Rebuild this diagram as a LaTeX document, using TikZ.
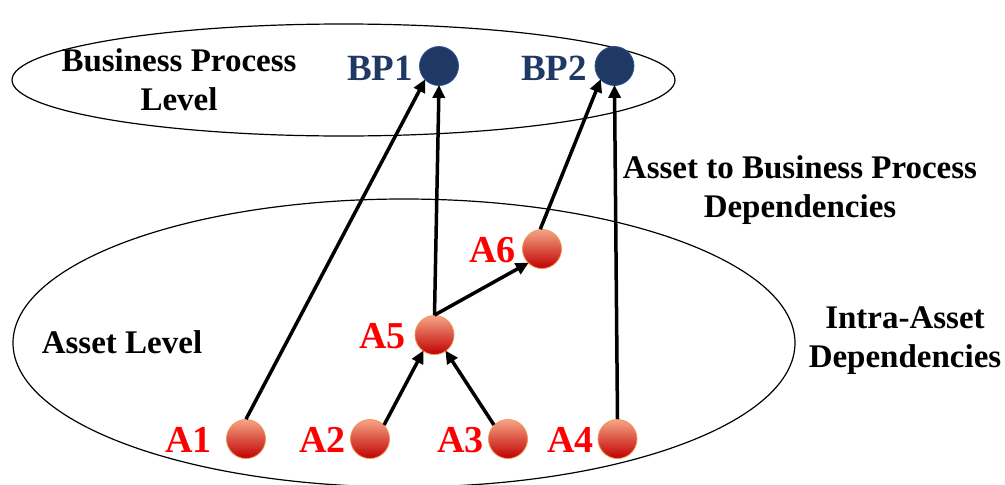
\documentclass[tikz,border=0pt]{standalone}
\usepackage{fontspec}
\setmainfont{Liberation Serif}
\usetikzlibrary{arrows.meta}
\definecolor{navy}{RGB}{32,56,100}
\definecolor{navyedge}{RGB}{47,85,151}
\definecolor{assettop}{RGB}{246,165,135}
\definecolor{assetbot}{RGB}{192,0,0}
\definecolor{assetedge}{RGB}{240,150,80}
\definecolor{labred}{RGB}{255,0,0}
\tikzset{
  bpnode/.style={circle, minimum size=39pt, inner sep=0pt, fill=navy, draw=navyedge, line width=0.8pt},
  anode/.style={circle, minimum size=39pt, inner sep=0pt, top color=assettop, bottom color=assetbot, draw=assetedge, line width=0.8pt},
  bplab/.style={anchor=east, text=navy, font=\fontsize{37}{40}\selectfont\bfseries, inner sep=0pt},
  alab/.style={anchor=east, text=labred, font=\fontsize{38}{40}\selectfont\bfseries, inner sep=0pt},
  txt/.style={align=center, font=\fontsize{33}{39}\selectfont\bfseries, inner sep=0pt},
  level/.style={line width=1.2pt, draw=black},
  dep/.style={line width=3.5pt, -{Triangle[length=13pt,width=12pt]}, shorten >=-1pt}
}
\begin{document}
\begin{tikzpicture}[x=1pt,y=-1pt]
\useasboundingbox (0,0) rectangle (1005,485);
% levels
\draw[level] (343.5,80) ellipse [x radius=331.5pt, y radius=56pt];
\draw[level] (404,343) ellipse [x radius=391pt, y radius=144pt];
% nodes
\node[bpnode] (BP1) at (439,66) {};
\node[bpnode] (BP2) at (614.5,66) {};
\node[anode] (A6) at (542,249) {};
\node[anode] (A5) at (434.5,335) {};
\node[anode] (A1) at (246,439) {};
\node[anode] (A2) at (370,439) {};
\node[anode] (A3) at (508,439) {};
\node[anode] (A4) at (617.5,439) {};
% labels
\node[bplab] (lBP1) at (413,68) {BP1};
\node[bplab] (lBP2) at (587,68) {BP2};
\node[alab] (lA6) at (516,250) {A6};
\node[alab] (lA5) at (406,336) {A5};
\node[alab] (lA1) at (212,440) {A1};
\node[alab] (lA2) at (346,440) {A2};
\node[alab] (lA3) at (484,440) {A3};
\node[alab] (lA4) at (594,440) {A4};
% texts
\node[txt] (tBPL) at (179,80) {Business Process\\Level};
\node[txt] (tAL) at (122,342) {Asset Level};
\node[txt] (tABP) at (800,190) {Asset to Business Process\\Dependencies};
\node[txt] (tIA) at (905,341) {Intra-Asset\\Dependencies};
% connectors
\draw[dep] (A1.north) -- (BP1.225);
\draw[dep] (A5.north) -- (BP1.south);
\draw[dep] (A6.95) -- (BP2.225);
\draw[dep] (A4.north) -- (BP2.south);
\draw[dep] (A5.north) -- (A6.225);
\draw[dep] (A2.45) -- (A5.235);
\draw[dep] (A3.135) -- (A5.305);
\end{tikzpicture}
\end{document}
